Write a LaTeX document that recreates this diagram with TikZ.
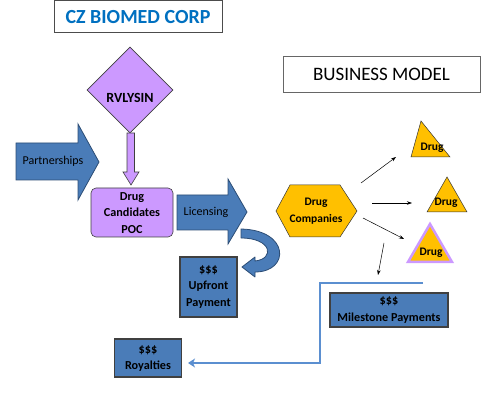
\documentclass[tikz,border=0pt]{standalone}
\usepackage{fontspec}
\setmainfont{Carlito}
\usetikzlibrary{arrows.meta,shapes.geometric}
\definecolor{lilac}{HTML}{CC99FF}
\definecolor{bfill}{HTML}{4A7CB8}
\definecolor{bline}{HTML}{2C4D75}
\definecolor{gold}{HTML}{FFC000}
\definecolor{tblue}{HTML}{0070C0}
\definecolor{lineblue}{HTML}{5B8FD0}
\begin{document}
\begin{tikzpicture}[x=1pt,y=-1pt,
  blockarrow/.style={fill=bfill,draw=bline,line width=0.8pt,line join=miter},
  lilacshape/.style={fill=lilac,draw=black!75,line width=0.6pt},
  bluebox/.style={fill=bfill,draw=black!75,line width=1.2pt,inner sep=0pt},
  goldshape/.style={fill=gold,draw=black!80,line width=0.5pt,line join=miter},
  lbl/.style={font=\bfseries\fontsize{12.2}{16.5}\selectfont,align=center,inner sep=0pt},
  rlbl/.style={font=\fontsize{12}{13}\selectfont,inner sep=0pt},
  tri/.style={font=\bfseries\fontsize{11.5}{12}\selectfont,inner sep=0pt},
  thinarrow/.style={-{Stealth[length=5pt,width=3.5pt]},line width=0.5pt}
]
\useasboundingbox (0,0) rectangle (493,414);

% titles
\node[draw=black!70,line width=1pt,minimum width=168pt,minimum height=32pt,inner sep=0pt,
  font=\bfseries\fontsize{20}{24}\selectfont,text=tblue] (title) at (138,17) {CZ BIOMED CORP};
\node[draw=black!60,line width=0.7pt,minimum width=197pt,minimum height=36pt,inner sep=0pt,
  font=\fontsize{19}{22}\selectfont] (bm) at (381.5,74) {BUSINESS MODEL};

% RVLYSIN diamond
\node[diamond,lilacshape,minimum width=86pt,minimum height=86pt,inner sep=0pt] (rv) at (130,90) {};
\node[font=\bfseries\fontsize{14}{16}\selectfont,inner sep=0pt] (rvl) at (130,98) {RVLYSIN};

% down arrow
\path[lilacshape,line join=miter] (127,133) -- (134.5,133) -- (134.5,172) -- (139,172) -- (131,185) -- (123,172) -- (127,172) -- cycle;
\coordinate (dtip) at (131,185);

% Partnerships arrow
\path[blockarrow] (16,143) -- (78,143) -- (78,124) -- (99,162) -- (78,200) -- (78,180) -- (16,180) -- cycle;
\node[rlbl] (partn) at (53,161.5) {Partnerships};

% Drug candidates
\node[lilacshape,rounded corners=5pt,minimum width=82pt,minimum height=49pt,inner sep=0pt] (dc) at (132,212.5) {};
\node[lbl] (dcl) at (132,213) {Drug\\Candidates\\POC};

% Licensing arrow
\path[blockarrow] (177,195) -- (228,195) -- (228,179) -- (247,212) -- (228,244) -- (228,230) -- (177,230) -- cycle;
\node[rlbl] (lic) at (206,212) {Licensing};

% curved arrow
\path[blockarrow,line join=round] (241,229) .. controls (290,230) and (290,272) .. (255,272)
  -- (255,277) -- (242,267) -- (255,257) -- (255,261)
  .. controls (275,259) and (272,238) .. (241,238) -- cycle;

% Upfront payment
\node[bluebox,minimum width=57pt,minimum height=60pt] (up) at (208.5,287) {};
\node[lbl] (upl) at (208.5,287) {\$\$\$\\Upfront\\Payment};

% Drug Companies hexagon
\path[goldshape] (290,185) -- (340,185) -- (357,211) -- (340,237) -- (290,237) -- (276,211) -- cycle;
\node[font=\fontsize{11.5}{17}\selectfont\bfseries,align=center,inner sep=0pt] (dco) at (316,211.5) {Drug\\Companies};

% triangles
\path[goldshape] (421,121) -- (450,157) -- (411,157) -- cycle;
\node[tri] (t1) at (432,148) {Drug};
\path[goldshape] (447,177) -- (467,212) -- (427,212) -- cycle;
\node[tri] (t2) at (446,203) {Drug};
\path[fill=gold,draw=lilac,line width=2.5pt,line join=miter] (430,224) -- (452,262) -- (408,262) -- cycle;
\node[tri] (t3) at (431,253) {Drug};

% thin arrows
\coordinate (a1s) at (361,183); \coordinate (a1e) at (396,157);
\coordinate (a2s) at (372,203); \coordinate (a2e) at (412,203);
\coordinate (a3s) at (363,218); \coordinate (a3e) at (404,239);
\coordinate (a4s) at (384,243); \coordinate (a4e) at (378,275);
\draw[thinarrow] (a1s) -- (a1e);
\draw[thinarrow] (a2s) -- (a2e);
\draw[thinarrow] (a3s) -- (a3e);
\draw[thinarrow] (a4s) -- (a4e);

% Milestone
\node[bluebox,minimum width=118pt,minimum height=34pt] (ms) at (389,310) {};
\node[lbl] (msl) at (389,310) {\$\$\$\\Milestone Payments};

% Royalties
\node[bluebox,minimum width=67pt,minimum height=38pt] (roy) at (148,358) {};
\node[lbl] (royl) at (148,358.5) {\$\$\$\\Royalties};

% blue connector
\coordinate (b1) at (423,283);
\coordinate (b2) at (320,283);
\coordinate (b3) at (188,363);
\draw[lineblue,line width=2.5pt,-{Stealth[length=7pt,width=9pt,inset=2pt]}] (b1) -- (b2) |- (b3);
\end{tikzpicture}
\end{document}
